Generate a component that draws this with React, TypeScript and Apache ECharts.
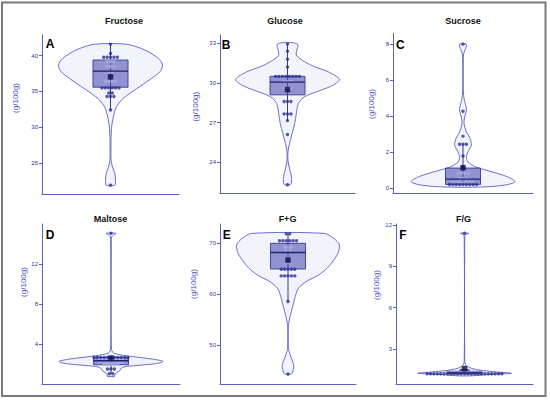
import React, { useEffect, useRef } from "react";
import * as echarts from "echarts";

// ---------- data ----------
const panelNames = ["Fructose", "Glucose", "Sucrose", "Maltose", "F+G", "F/G"];
const panelLetters = ["A", "B", "C", "D", "E", "F"];
const yAxisTitle = "(g/100g)";

const fructoseTicks = [25, 30, 35, 40];
const glucoseTicks = [24, 27, 30, 33];
const sucroseTicks = [0, 2, 4, 6, 8];
const maltoseTicks = [4, 8, 12];
const fgTicks = [50, 60, 70];
const ratioTicks = [3, 6, 9, 12];

const fructoseRange = [20.66, 42.9];
const glucoseRange = [21.67, 33.63];
const sucroseRange = [-0.28, 8.59];
const maltoseRange = [0.0, 16.03];
const fgRange = [42.35, 73.8];
const ratioRange = [0.46, 12.07];

// individual samples
const fructoseDots = [41.6, 40.3, 39.8, 39.8, 39.8, 39.8, 39.8, 39.2, 39.2, 39.2, 38.5, 38.5, 38.5, 37.6, 37.6, 36.4, 36.4, 36.4, 36.4, 35.5, 35.5, 35.5, 35.5, 35.5, 35.5, 34.8, 34.8, 34.3, 34.3, 34.3, 32.4, 21.9];
const glucoseDots = [32.95, 32.4, 31.8, 31.2, 30.5, 30.5, 30.5, 30.5, 30.5, 30.5, 30.5, 30.5, 30.1, 30.1, 30.1, 29.6, 29.6, 29.6, 28.6, 28.6, 28.6, 27.65, 27.65, 27.65, 27.15, 26.1, 22.3];
const sucroseDots = [8.0, 4.28, 2.9, 2.45, 2.45, 2.45, 1.8, 1.15, 0.85, 0.85, 0.85, 0.85, 0.55, 0.55, 0.55, 0.32, 0.32, 0.32, 0.32, 0.32, 0.32, 0.32, 0.22, 0.22, 0.22, 0.22, 0.22, 0.22, 0.22, 0.22, 0.22];
const maltoseDots = [15.1, 2.66, 2.66, 2.66, 2.66, 2.66, 2.66, 2.66, 2.66, 2.66, 2.66, 2.66, 2.4, 2.4, 2.4, 2.4, 2.4, 2.4, 2.4, 2.4, 2.15, 2.15, 2.15, 2.15, 2.15, 2.15, 2.15, 2.15, 1.95, 1.95, 1.95, 1.95, 1.95, 1.5, 1.5, 1.5, 1.03, 1.03];
const fgDots = [71.9, 71.9, 70.5, 70.5, 70.5, 70.5, 70.5, 70.5, 69.3, 69.3, 69.3, 68.7, 68.7, 66.2, 66.2, 64.9, 64.9, 64.9, 64.9, 64.9, 63.6, 63.6, 63.6, 63.6, 63.6, 58.55, 44.3];
const ratioDots = [11.4, 1.45, 1.45, 1.45, 1.3, 1.3, 1.3, 1.3, 1.3, 1.3, 1.3, 1.3, 1.3, 1.3, 1.3, 1.2, 1.2, 1.2, 1.2, 1.2, 1.2, 1.2, 1.2, 1.2, 1.2, 1.2, 1.2, 1.2, 1.2, 1.2, 1.2, 1.2, 1.2, 1.2, 1.2, 1.2, 1.2, 1.2];

// box: [lower whisker, Q1, median, Q3, upper whisker]
const fructoseBox = [32.4, 35.6, 37.85, 39.4, 41.6];
const glucoseBox = [27.15, 29.1, 30.07, 30.5, 32.95];
const sucroseBox = [0.22, 0.22, 0.52, 1.13, 2.45];
const maltoseBox = [1.03, 1.93, 2.33, 2.66, 2.66];
const fgBox = [58.55, 64.96, 68.2, 70.0, 71.95];
const ratioBox = [1.2, 1.2, 1.27, 1.38, 1.45];

const fructoseMean = 37.05;
const glucoseMean = 29.5;
const sucroseMean = 1.15;
const maltoseMean = 2.6;
const fgMean = 66.7;
const ratioMean = 1.58;

// violin outline: [value, relative half width]
const fructoseViolin = [[41.6, 0.31], [40.8, 0.66], [39.63, 0.92], [38.7, 1.0], [37.77, 0.95], [36.83, 0.79], [35.67, 0.56], [34.74, 0.37], [33.8, 0.21], [32.87, 0.115], [31.94, 0.07], [30.5, 0.03], [29.1, 0.013], [27.0, 0.008], [25.4, 0.01], [24.4, 0.04], [23.5, 0.083], [22.6, 0.096], [21.9, 0.083]];
const glucoseViolin = [[32.95, 0.19], [32.11, 0.17], [31.61, 0.33], [31.23, 0.52], [30.85, 0.78], [30.27, 1.0], [29.84, 0.88], [29.46, 0.65], [28.96, 0.33], [28.45, 0.21], [27.7, 0.17], [26.94, 0.14], [26.18, 0.09], [25.43, 0.04], [24.92, 0.013], [24.16, 0.008], [23.4, 0.045], [22.9, 0.077], [22.32, 0.064]];
const sucroseViolin = [[8.0, 0.064], [7.76, 0.05], [7.48, 0.013], [7.2, 0.006], [5.4, 0.006], [4.89, 0.026], [4.56, 0.058], [4.28, 0.064], [3.97, 0.032], [3.6, 0.019], [3.14, 0.064], [2.77, 0.135], [2.4, 0.16], [2.03, 0.096], [1.75, 0.064], [1.47, 0.096], [1.2, 0.24], [0.92, 0.56], [0.65, 0.85], [0.37, 1.0], [0.18, 0.79], [0.08, 0.35]];
const maltoseViolin = [[15.1, 0.096], [14.93, 0.05], [14.76, 0.013], [14.5, 0.006], [3.6, 0.006], [3.1, 0.05], [2.76, 0.4], [2.5, 0.79], [2.26, 1.0], [2.03, 0.85], [1.76, 0.3], [1.6, 0.2], [1.35, 0.17], [1.1, 0.1], [0.9, 0.07], [0.76, 0.07]];
const fgViolin = [[71.95, 0.7], [70.97, 0.88], [69.67, 0.99], [68.03, 0.96], [66.73, 0.88], [65.09, 0.75], [63.78, 0.59], [62.48, 0.35], [61.17, 0.2], [59.54, 0.14], [57.58, 0.09], [55.62, 0.04], [54.31, 0.013], [53.5, 0.006], [49.5, 0.006], [48.75, 0.02], [47.44, 0.064], [46.14, 0.11], [45.16, 0.1], [44.31, 0.064]];
const ratioViolin = [[11.4, 0.083], [11.3, 0.026], [11.15, 0.006], [2.1, 0.006], [1.74, 0.05], [1.5, 0.24], [1.33, 0.63], [1.24, 0.9], [1.14, 0.44], [1.05, 0.12]];

// ---------- layout & style ----------
const gridRects = [
  { left: 42, top: 35, width: 137, height: 159 },
  { left: 220, top: 35, width: 135, height: 158 },
  { left: 393, top: 33.5, width: 140, height: 160 },
  { left: 42, top: 224, width: 138, height: 160 },
  { left: 220, top: 224, width: 136, height: 160 },
  { left: 396, top: 224, width: 137, height: 160 },
];
const titlePos = [[124, 21], [285, 20.5], [463, 20.5], [110.5, 219], [287.5, 219], [463.5, 219]];
const letterPos = [[45.7, 44], [221.7, 45], [396, 45], [45.7, 235], [222.7, 235], [399.3, 235]];
const yTitlePos = [[15.5, 98], [195.7, 106.7], [371.2, 104], [23, 282], [193, 284], [376.7, 285]];

const FONT = "'Liberation Sans', Arial, sans-serif";
const AXIS = "#5a5ec2";
const TICK_TEXT = "#2f3391";
const YLABEL = "#4a4fd4";
const VIOLIN_STROKE = "#5b60c6";
const VIOLIN_FILL = "#f3f3fb";
const BOX_FILL = "rgba(78, 84, 180, 0.6)";
const BOX_STROKE = "#353a98";
const MEDIAN = "#1c2070";
const DOT = "#2b2f8c";
const DOT_LIGHT = "#a9acdd";
const MEAN = "#0c0c4a";
const FRAME = "#7a7a7a";

const VIOLIN_HALF = 52;
const BOX_HALF = 17.5;
const DOT_STEP = 3.4;
const DOT_SIZE = 3.4;

const panels = [
  { ticks: fructoseTicks, range: fructoseRange, dots: fructoseDots, box: fructoseBox, mean: fructoseMean, violin: fructoseViolin },
  { ticks: glucoseTicks, range: glucoseRange, dots: glucoseDots, box: glucoseBox, mean: glucoseMean, violin: glucoseViolin },
  { ticks: sucroseTicks, range: sucroseRange, dots: sucroseDots, box: sucroseBox, mean: sucroseMean, violin: sucroseViolin },
  { ticks: maltoseTicks, range: maltoseRange, dots: maltoseDots, box: maltoseBox, mean: maltoseMean, violin: maltoseViolin },
  { ticks: fgTicks, range: fgRange, dots: fgDots, box: fgBox, mean: fgMean, violin: fgViolin },
  { ticks: ratioTicks, range: ratioRange, dots: ratioDots, box: ratioBox, mean: ratioMean, violin: ratioViolin },
];

function dodge(values: number[], q1: number, q3: number) {
  const counts = new Map<number, number>();
  values.forEach((v) => counts.set(v, (counts.get(v) || 0) + 1));
  const seen = new Map<number, number>();
  return values.map((v) => {
    const n = counts.get(v) || 1;
    const k = seen.get(v) || 0;
    seen.set(v, k + 1);
    const inside = v > q1 && v < q3;
    return { value: [(k - (n - 1) / 2) * DOT_STEP, v], itemStyle: { color: inside ? DOT_LIGHT : DOT } };
  });
}

export default function App() {
  const ref = useRef<HTMLDivElement>(null);
  useEffect(() => {
    if (!ref.current) return;
    const chart = echarts.init(ref.current, null, { renderer: "svg" });
    const series: any[] = [];
    panels.forEach((p, i) => {
      const [wl, q1, med, q3, wh] = p.box;
      series.push({
        type: "custom", xAxisIndex: i, yAxisIndex: i, z: 1, silent: true, clip: false,
        data: [[0, p.violin[0][0]]],
        renderItem: (_params: any, api: any) => {
          const right = p.violin.map(([v, r]) => api.coord([r * VIOLIN_HALF, v]));
          const left = p.violin.slice().reverse().map(([v, r]) => api.coord([-r * VIOLIN_HALF, v]));
          return {
            type: "polygon",
            shape: { points: [...right, ...left], smooth: 0.3 },
            style: { fill: VIOLIN_FILL, stroke: VIOLIN_STROKE, lineWidth: 0.9 },
          };
        },
      });
      series.push({
        type: "custom", xAxisIndex: i, yAxisIndex: i, z: 2, silent: true, clip: false,
        data: [[0, med]],
        renderItem: (_params: any, api: any) => {
          const top = api.coord([0, q3]);
          const bot = api.coord([0, q1]);
          const lo = api.coord([0, wl]);
          const hi = api.coord([0, wh]);
          return {
            type: "group",
            children: [
              { type: "line", shape: { x1: hi[0], y1: hi[1], x2: lo[0], y2: lo[1] }, style: { stroke: BOX_STROKE, lineWidth: 1 } },
              { type: "rect", shape: { x: top[0] - BOX_HALF, y: top[1], width: BOX_HALF * 2, height: Math.max(bot[1] - top[1], 1) }, style: { fill: BOX_FILL, stroke: BOX_STROKE, lineWidth: 0.9 } },
            ],
          };
        },
      });
      series.push({
        type: "scatter", xAxisIndex: i, yAxisIndex: i, z: 3, silent: true,
        symbol: "circle", symbolSize: DOT_SIZE,
        data: dodge(p.dots, q1, q3),
      });
      series.push({
        type: "custom", xAxisIndex: i, yAxisIndex: i, z: 4, silent: true, clip: false,
        data: [[0, med]],
        renderItem: (_params: any, api: any) => {
          const m = api.coord([0, med]);
          return { type: "line", shape: { x1: m[0] - BOX_HALF, y1: m[1], x2: m[0] + BOX_HALF, y2: m[1] }, style: { stroke: MEDIAN, lineWidth: 1.3 } };
        },
      });
      series.push({
        type: "scatter", xAxisIndex: i, yAxisIndex: i, z: 5, silent: true,
        symbol: "rect", symbolSize: 5.5, itemStyle: { color: MEAN },
        data: [[0, p.mean]],
      });
    });

    const graphic: any[] = [
      { type: "rect", shape: { x: 2, y: 2.5, width: 543.5, height: 393.5 }, style: { fill: "none", stroke: FRAME, lineWidth: 2 }, z: 100 },
    ];
    panelNames.forEach((name, i) => {
      graphic.push({ type: "text", x: titlePos[i][0], y: titlePos[i][1], style: { text: name, fontSize: 9, fontWeight: "bold", fontFamily: FONT, fill: "#111", align: "center", verticalAlign: "middle", textAlign: "center", textVerticalAlign: "middle" } });
      graphic.push({ type: "text", x: letterPos[i][0], y: letterPos[i][1], style: { text: panelLetters[i], fontSize: 12, fontWeight: "bold", fontFamily: FONT, fill: "#000", align: "left", verticalAlign: "middle", textAlign: "left", textVerticalAlign: "middle" } });
      graphic.push({ type: "text", x: yTitlePos[i][0], y: yTitlePos[i][1], rotation: Math.PI / 2, style: { text: yAxisTitle, fontSize: 8, fontFamily: FONT, fill: YLABEL, align: "center", verticalAlign: "middle", textAlign: "center", textVerticalAlign: "middle" } });
    });

    chart.setOption({
      animation: false,
      grid: gridRects.map((r) => ({ ...r, containLabel: false, outerBoundsMode: "none" })),
      xAxis: gridRects.map((r, i) => ({
        type: "value", gridIndex: i, min: -r.width / 2, max: r.width / 2,
        axisLine: { show: true, onZero: false, lineStyle: { color: AXIS, width: 1 } },
        axisTick: { show: false }, axisLabel: { show: false }, splitLine: { show: false },
      })),
      yAxis: panels.map((p, i) => ({
        type: "value", gridIndex: i, min: p.range[0], max: p.range[1],
        axisLine: { show: true, onZero: false, lineStyle: { color: AXIS, width: 1 } },
        axisTick: { show: true, length: 3, customValues: p.ticks, lineStyle: { color: AXIS } },
        axisLabel: { show: true, customValues: p.ticks, fontSize: 6, color: TICK_TEXT, margin: 4, fontFamily: FONT },
        splitLine: { show: false },
      })),
      series,
      graphic,
    });
    return () => chart.dispose();
  }, []);
  return <div ref={ref} style={{ position: "absolute", left: 0, top: 0, width: 550, height: 400, background: "#fff" }} />;
}
